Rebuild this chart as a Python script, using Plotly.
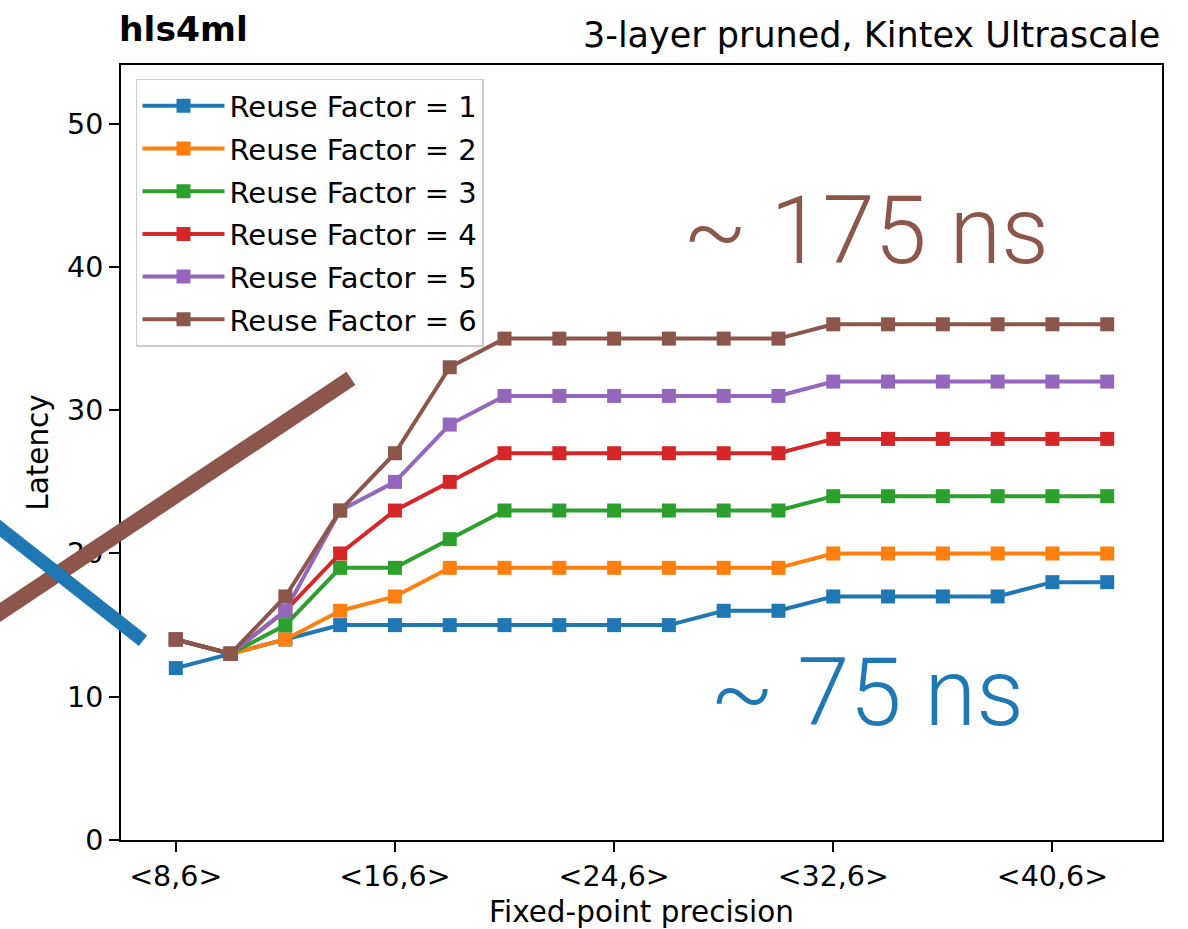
import plotly.graph_objects as go

# ---- data ----
precision_bits = [8, 10, 12, 14, 16, 18, 20, 22, 24, 26, 28, 30, 32, 34, 36, 38, 40, 42]
tick_values = [8, 16, 24, 32, 40]
tick_labels = ["&lt;8,6&gt;", "&lt;16,6&gt;", "&lt;24,6&gt;", "&lt;32,6&gt;", "&lt;40,6&gt;"]

rf1 = [12, 13, 14, 15, 15, 15, 15, 15, 15, 15, 16, 16, 17, 17, 17, 17, 18, 18]
rf2 = [14, 13, 14, 16, 17, 19, 19, 19, 19, 19, 19, 19, 20, 20, 20, 20, 20, 20]
rf3 = [14, 13, 15, 19, 19, 21, 23, 23, 23, 23, 23, 23, 24, 24, 24, 24, 24, 24]
rf4 = [14, 13, 16, 20, 23, 25, 27, 27, 27, 27, 27, 27, 28, 28, 28, 28, 28, 28]
rf5 = [14, 13, 16, 23, 25, 29, 31, 31, 31, 31, 31, 31, 32, 32, 32, 32, 32, 32]
rf6 = [14, 13, 17, 23, 27, 33, 35, 35, 35, 35, 35, 35, 36, 36, 36, 36, 36, 36]

series = [rf1, rf2, rf3, rf4, rf5, rf6]
names = ["Reuse Factor = %d" % i for i in range(1, 7)]
colors = ["#1f77b4", "#ff7f0e", "#2ca02c", "#d62728", "#9467bd", "#8c564b"]

# decorative hand-drawn strokes (paper coordinates)
brown_stroke = [(-0.1354, 0.2765), (0.2209, 0.5956)]
blue_stroke = [(-0.1354, 0.4225), (0.0211, 0.2571)]

FONT = "DejaVu Sans"

fig = go.Figure()
for i, (vals, name, col) in enumerate(zip(series, names, colors)):
    fig.add_trace(go.Scatter(
        x=precision_bits, y=vals, name=name, mode="lines+markers",
        line=dict(color=col, width=4),
        marker=dict(symbol="square", size=14, color=col),
        legendgroup="g%d" % i,
    ))

fig.update_layout(
    width=1188, height=929,
    margin=dict(l=121, r=26, t=65, b=89, autoexpand=False),
    paper_bgcolor="white", plot_bgcolor="white",
    font=dict(family=FONT, size=29, color="black"),
    showlegend=True,
    legend=dict(
        x=0.0144, y=0.982, xanchor="left", yanchor="top",
        bgcolor="white", bordercolor="#cccccc", borderwidth=1.5,
        font=dict(family=FONT, size=29, color="black"),
        tracegroupgap=2, itemwidth=82,
    ),
    xaxis=dict(
        range=[6, 44], tickvals=tick_values, ticktext=tick_labels,
        showgrid=False, zeroline=False, showline=True, mirror=True,
        linecolor="black", linewidth=2, ticks="outside", ticklen=10,
        tickwidth=2, tickcolor="black", automargin=False,
        tickfont=dict(family=FONT, size=28.5),
        title=dict(text="Fixed-point precision", font=dict(family=FONT, size=29.5), standoff=12),
    ),
    yaxis=dict(
        range=[0, 54.1], tickvals=[0, 10, 20, 30, 40, 50],
        showgrid=False, zeroline=False, showline=True, mirror=True,
        linecolor="black", linewidth=2, ticks="outside", ticklen=10,
        tickwidth=2, tickcolor="black", automargin=False,
        tickfont=dict(family=FONT, size=28.5),
        title=dict(text="Latency", font=dict(family=FONT, size=29.5), standoff=10),
    ),
)

fig.add_annotation(text="<b>hls4ml</b>", xref="paper", yref="paper", x=-0.004, y=1.0,
                   xanchor="left", yanchor="bottom", yshift=14, showarrow=False,
                   font=dict(family=FONT, size=34.5, color="black"))
fig.add_annotation(text="3-layer pruned, Kintex Ultrascale", xref="paper", yref="paper",
                   x=1.0, y=1.0, xanchor="right", yanchor="bottom", yshift=8, showarrow=False,
                   font=dict(family=FONT, size=35, color="black"))

fig.add_annotation(text="~ 175 ns", xref="paper", yref="paper",
                   x=(866 - 121) / 1041, y=(840 - 232) / 774, xanchor="center", yanchor="middle",
                   showarrow=False,
                   font=dict(family="Roboto", size=94, color="#8c564b", weight=300))
fig.add_annotation(text="~ 75 ns", xref="paper", yref="paper",
                   x=(867 - 121) / 1041, y=(840 - 693) / 774, xanchor="center", yanchor="middle",
                   showarrow=False,
                   font=dict(family="Roboto", size=94, color="#1f77b4", weight=300))

for (p0, p1), col, w in [(brown_stroke, "#8c564b", 16), (blue_stroke, "#1f77b4", 13.5)]:
    fig.add_shape(type="line", xref="paper", yref="paper",
                  x0=p0[0], y0=p0[1], x1=p1[0], y1=p1[1],
                  line=dict(color=col, width=w), layer="above")

fig.write_html("out.html")
